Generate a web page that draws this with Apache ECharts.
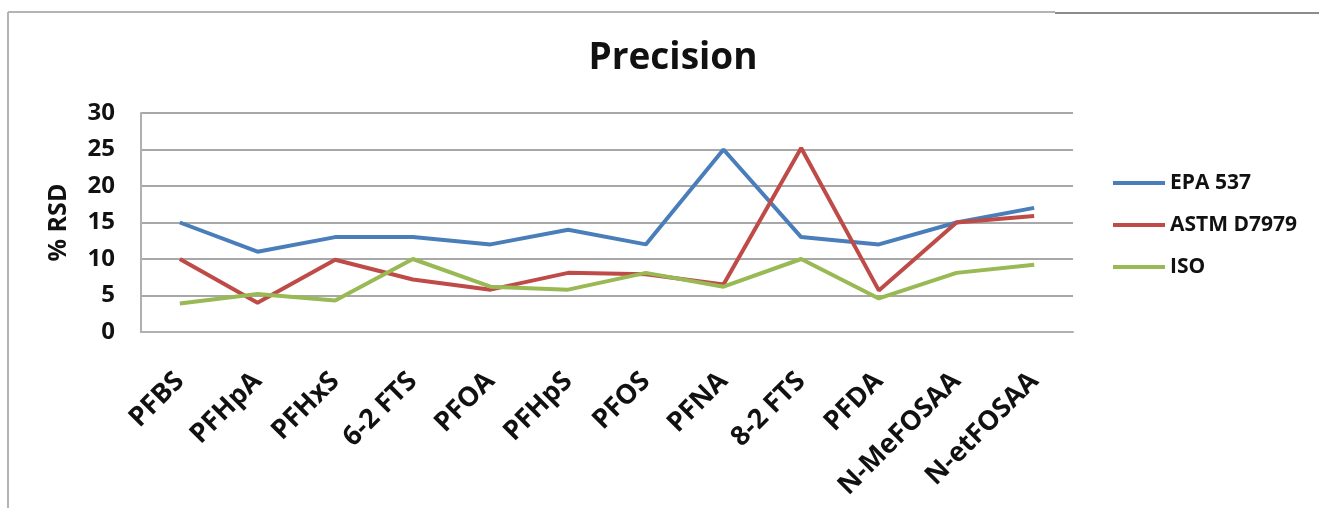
<!DOCTYPE html>
<html>
<head>
<meta charset="utf-8">
<script src="https://cdn.jsdelivr.net/npm/echarts@6/dist/echarts.min.js"></script>
<style>
  html, body { margin: 0; padding: 0; background: #ffffff; }
  #chart { width: 1319px; height: 508px; }
</style>
</head>
<body>
<div id="chart"></div>
<script>
// Analytes on the category axis
const compounds = ['PFBS', 'PFHpA', 'PFHxS', '6-2 FTS', 'PFOA', 'PFHpS', 'PFOS',
                   'PFNA', '8-2 FTS', 'PFDA', 'N-MeFOSAA', 'N-etFOSAA'];

// % RSD per method
const epa537   = [15, 11, 13, 13, 12, 14, 12, 25, 13, 12, 15, 17];
const astm7979 = [10, 4, 9.9, 7.2, 5.8, 8.1, 7.9, 6.5, 25.2, 5.7, 15, 15.9];
const iso      = [3.9, 5.2, 4.3, 10, 6.2, 5.8, 8.1, 6.2, 10, 4.6, 8.1, 9.2];

const yTicks = [0, 5, 10, 15, 20, 25, 30];

const FONT = '"Open Sans", "DejaVu Sans", sans-serif';
const chart = echarts.init(document.getElementById('chart'));

function line(name, data, color) {
  return {
    name: name,
    type: 'line',
    data: data,
    symbol: 'none',
    lineStyle: { color: color, width: 4 },
    itemStyle: { color: color }
  };
}

chart.setOption({
  backgroundColor: '#ffffff',
  animation: false,
  title: {
    text: 'Precision',
    left: 668,
    textAlign: 'center',
    top: 35,
    textStyle: { fontFamily: FONT, fontWeight: 'bold', fontSize: 37, color: '#111' }
  },
  legend: {
    orient: 'vertical',
    left: 1108,
    top: 166,
    icon: 'rect',
    itemWidth: 52,
    itemHeight: 4,
    itemGap: 18,
    textStyle: { fontFamily: FONT, fontWeight: 'bold', fontSize: 21, color: '#111', lineHeight: 24 },
    data: ['EPA 537', 'ASTM D7979', 'ISO']
  },
  grid: { left: 141, right: 246, top: 113, bottom: 176 },
  xAxis: {
    type: 'category',
    data: compounds,
    boundaryGap: true,
    axisLine: { lineStyle: { color: '#b0b0b0', width: 2 } },
    axisTick: { show: false },
    axisLabel: {
      rotate: 45,
      interval: 0,
      margin: 45,
      fontFamily: FONT,
      fontWeight: 'bold',
      fontSize: 27,
      color: '#111'
    }
  },
  yAxis: {
    type: 'value',
    min: yTicks[0],
    max: yTicks[yTicks.length - 1],
    interval: 5,
    name: '% RSD',
    nameLocation: 'middle',
    nameGap: 70,
    nameRotate: 90,
    nameTextStyle: { fontFamily: FONT, fontWeight: 'bold', fontSize: 25, color: '#111' },
    axisLine: { show: true, lineStyle: { color: '#b0b0b0', width: 2 } },
    axisTick: { show: false },
    axisLabel: {
      margin: 26,
      fontFamily: FONT,
      fontWeight: 'bold',
      fontSize: 24,
      color: '#111'
    },
    splitLine: { lineStyle: { color: '#a8a8a8', width: 2 } }
  },
  graphic: [
    { type: 'line', shape: { x1: 8, y1: 12, x2: 1055, y2: 12 }, style: { stroke: '#b4b4b4', lineWidth: 2 } },
    { type: 'line', shape: { x1: 1055, y1: 13, x2: 1319, y2: 13 }, style: { stroke: '#8c8c8c', lineWidth: 2 } },
    { type: 'line', shape: { x1: 8, y1: 12, x2: 8, y2: 508 }, style: { stroke: '#b4b4b4', lineWidth: 2 } }
  ],
  series: [
    line('EPA 537', epa537, '#4a7ebb'),
    line('ASTM D7979', astm7979, '#be4b48'),
    line('ISO', iso, '#98b954')
  ]
});
</script>
</body>
</html>
